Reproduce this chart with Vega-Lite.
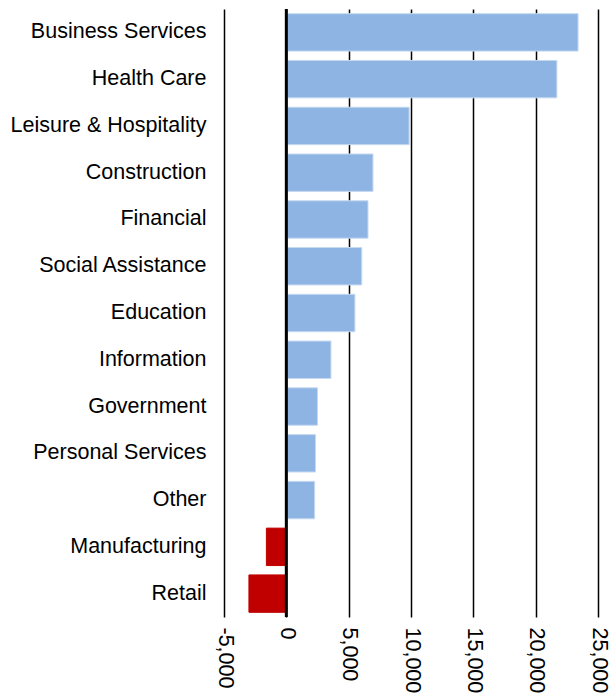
{
  "$schema": "https://vega.github.io/schema/vega-lite/v6.json",
  "autosize": {"type": "none"},
  "padding": {"left": 224, "top": 9, "right": 13, "bottom": 77},
  "width": 374,
  "height": 608,
  "background": "white",
  "data": {
    "values": [
      {"sector": "Business Services", "change": 23400},
      {"sector": "Health Care", "change": 21700},
      {"sector": "Leisure & Hospitality", "change": 9850},
      {"sector": "Construction", "change": 6950},
      {"sector": "Financial", "change": 6550},
      {"sector": "Social Assistance", "change": 6050},
      {"sector": "Education", "change": 5500},
      {"sector": "Information", "change": 3580},
      {"sector": "Government", "change": 2500},
      {"sector": "Personal Services", "change": 2340},
      {"sector": "Other", "change": 2270},
      {"sector": "Manufacturing", "change": -1600},
      {"sector": "Retail", "change": -3000}
    ]
  },
  "layer": [
    {
      "mark": {"type": "bar", "strokeWidth": 1},
      "encoding": {
        "y": {
          "field": "sector",
          "type": "nominal",
          "sort": null,
          "title": null,
          "scale": {"paddingInner": 0.2, "paddingOuter": 0.1},
          "axis": {
            "domain": false,
            "ticks": false,
            "labelPadding": 18,
            "labelFontSize": 21.5,
            "labelFont": "Liberation Sans",
            "labelColor": "black",
            "labelLimit": 300
          }
        },
        "x": {
          "field": "change",
          "type": "quantitative",
          "title": null,
          "scale": {"domain": [-5000, 25000], "nice": false},
          "axis": {
            "values": [-5000, 0, 5000, 10000, 15000, 20000, 25000],
            "labelExpr": "replace(format(datum.value, ',d'), '\u2212', '-')",
            "labelAngle": 90,
            "labelAlign": "left",
            "labelBaseline": "middle",
            "labelPadding": 10,
            "labelFontSize": 21.5,
            "labelFont": "Liberation Sans",
            "labelColor": "black",
            "labelOverlap": false,
            "domain": false,
            "ticks": false,
            "grid": true,
            "gridColor": "black",
            "gridWidth": 1.5,
            "gridOpacity": 1
          }
        },
        "color": {
          "condition": {"test": "datum.change < 0", "value": "#C00000"},
          "value": "#8EB4E3"
        },
        "stroke": {
          "condition": {"test": "datum.change < 0", "value": "#C00000"},
          "value": "#C6D9F1"
        }
      }
    },
    {
      "data": {"values": [{"zero": 0}]},
      "mark": {"type": "rule", "color": "black", "strokeWidth": 3},
      "encoding": {
        "x": {"field": "zero", "type": "quantitative"}
      }
    }
  ],
  "config": {
    "view": {"stroke": null}
  }
}
